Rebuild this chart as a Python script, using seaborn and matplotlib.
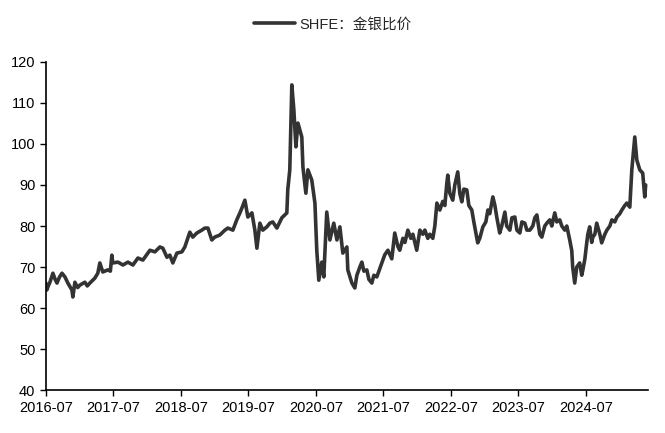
import pandas as pd
import matplotlib.pyplot as plt
import matplotlib.dates as mdates
import seaborn as sns

sns.set_style("ticks")
plt.rcParams['font.family'] = ['Liberation Sans', 'Noto Sans CJK SC', 'DejaVu Sans']
plt.rcParams['axes.unicode_minus'] = False

# 日期
dates = [
    "2016-07-01", "2016-07-06", "2016-07-15", "2016-07-23", "2016-08-08", "2016-08-20",
    "2016-08-30", "2016-09-12", "2016-09-26", "2016-10-12", "2016-10-28", "2016-11-19",
    "2016-11-24", "2016-12-05", "2016-12-20", "2017-01-01", "2017-01-28", "2017-02-10",
    "2017-02-24", "2017-03-23", "2017-04-08", "2017-04-19", "2017-05-05", "2017-06-01",
    "2017-06-15", "2017-06-23", "2017-06-28", "2017-07-26", "2017-08-22", "2017-09-18",
    "2017-10-15", "2017-11-11", "2017-12-08", "2018-01-04", "2018-01-15", "2018-02-11",
    "2018-03-10", "2018-03-26", "2018-04-17", "2018-05-03", "2018-05-19", "2018-06-10",
    "2018-07-07", "2018-07-23", "2018-08-19", "2018-09-04", "2018-09-26", "2018-10-23",
    "2018-11-08", "2018-11-25", "2018-12-16", "2019-01-01", "2019-01-28", "2019-02-25",
    "2019-03-13", "2019-04-09", "2019-04-30", "2019-05-17", "2019-05-28", "2019-06-13",
    "2019-06-29", "2019-07-21", "2019-08-06", "2019-08-17", "2019-09-02", "2019-09-18",
    "2019-10-10", "2019-10-26", "2019-11-11", "2019-12-03", "2019-12-30", "2020-01-26",
    "2020-01-31", "2020-02-11", "2020-02-22", "2020-03-04", "2020-03-15", "2020-03-26",
    "2020-04-16", "2020-04-22", "2020-05-08", "2020-05-19", "2020-06-09", "2020-06-26",
    "2020-07-06", "2020-07-17", "2020-08-02", "2020-08-13", "2020-08-29", "2020-09-15",
    "2020-10-06", "2020-10-23", "2020-11-08", "2020-11-24", "2020-12-16", "2020-12-21",
    "2021-01-12", "2021-01-28", "2021-02-08", "2021-02-24", "2021-03-07", "2021-03-18",
    "2021-04-03", "2021-04-14", "2021-04-30", "2021-05-11", "2021-05-27", "2021-06-07",
    "2021-06-23", "2021-07-09", "2021-07-26", "2021-08-16", "2021-09-01", "2021-09-18",
    "2021-09-28", "2021-10-15", "2021-10-26", "2021-11-11", "2021-11-27", "2021-12-08",
    "2021-12-29", "2022-01-15", "2022-01-31", "2022-02-11", "2022-02-27", "2022-03-10",
    "2022-03-26", "2022-04-06", "2022-04-17", "2022-05-03", "2022-05-19", "2022-05-30",
    "2022-06-10", "2022-06-15", "2022-06-26", "2022-07-12", "2022-07-23", "2022-08-08",
    "2022-08-19", "2022-08-30", "2022-09-10", "2022-09-26", "2022-10-07", "2022-10-23",
    "2022-11-03", "2022-11-24", "2022-12-05", "2022-12-22", "2023-01-07", "2023-01-18",
    "2023-01-28", "2023-02-14", "2023-02-25", "2023-03-07", "2023-03-23", "2023-04-03",
    "2023-04-20", "2023-04-30", "2023-05-17", "2023-05-28", "2023-06-13", "2023-06-24",
    "2023-07-10", "2023-07-21", "2023-08-06", "2023-08-17", "2023-09-02", "2023-09-18",
    "2023-09-29", "2023-10-10", "2023-10-26", "2023-11-06", "2023-11-22", "2023-12-03",
    "2023-12-19", "2023-12-30", "2024-01-15", "2024-01-26", "2024-02-11", "2024-02-22",
    "2024-03-09", "2024-03-20", "2024-04-05", "2024-04-16", "2024-04-21", "2024-05-02",
    "2024-05-13", "2024-05-29", "2024-06-09", "2024-06-15", "2024-06-26", "2024-07-06",
    "2024-07-12", "2024-07-22", "2024-08-02", "2024-08-08", "2024-08-19", "2024-08-29",
    "2024-09-15", "2024-09-25", "2024-10-12", "2024-10-23", "2024-11-08", "2024-11-19",
    "2024-12-05", "2024-12-16", "2025-01-01", "2025-01-12", "2025-01-28", "2025-02-08",
    "2025-02-24", "2025-03-07", "2025-03-23", "2025-04-03", "2025-04-19", "2025-05-05",
    "2025-05-16", "2025-05-21",
]

# 金银比价
ratio = [
    66.1, 64.4, 65.5, 66.3, 68.5, 67.0,
    66.1, 67.5, 68.5, 67.6, 66.1, 64.4,
    62.7, 66.3, 65.0, 65.6, 66.3, 65.4,
    66.1, 67.3, 68.5, 71.0, 68.8, 69.3,
    69.0, 72.9, 71.0, 71.2, 70.5, 71.2,
    70.5, 72.2, 71.7, 73.4, 74.1, 73.7,
    74.9, 74.6, 72.4, 72.9, 71.0, 73.4,
    73.7, 74.9, 78.5, 77.3, 78.3, 79.0,
    79.5, 79.5, 76.6, 77.3, 77.8, 79.0,
    79.5, 79.0, 81.5, 83.2, 84.4, 86.3,
    82.2, 83.2, 79.0, 74.6, 80.7, 79.0,
    79.8, 80.7, 81.0, 79.5, 82.0, 83.2,
    88.8, 93.7, 114.4, 108.3, 99.3, 105.1,
    101.7, 94.4, 88.0, 93.7, 91.2, 85.6,
    74.1, 66.8, 71.2, 67.6, 83.4, 76.6,
    80.7, 76.6, 79.8, 73.4, 74.9, 69.3,
    66.1, 64.9, 68.0, 70.0, 71.2, 69.0,
    69.3, 67.0, 66.1, 68.0, 67.6, 69.0,
    71.0, 73.0, 74.1, 72.0, 78.3, 75.0,
    74.1, 77.0, 76.0, 79.0, 77.0, 78.0,
    74.1, 79.0, 78.0, 79.0, 77.0, 78.0,
    77.0, 80.0, 85.6, 83.9, 86.0, 85.0,
    90.5, 92.4, 88.0, 86.3, 90.0, 93.2,
    88.0, 85.9, 89.0, 88.8, 85.0, 83.9,
    81.0, 75.9, 77.0, 79.8, 81.0, 83.9,
    83.0, 87.1, 85.0, 82.2, 78.3, 80.0,
    83.4, 80.0, 79.0, 82.0, 82.2, 79.0,
    78.3, 81.0, 80.7, 79.0, 79.0, 80.0,
    82.0, 82.7, 78.0, 77.3, 80.0, 80.7,
    81.5, 80.0, 83.2, 81.0, 81.5, 80.0,
    79.0, 80.0, 76.6, 74.0, 70.0, 66.1,
    70.0, 71.0, 68.0, 69.3, 72.0, 75.9,
    78.0, 79.8, 76.0, 77.3, 78.0, 80.7,
    78.0, 75.9, 78.0, 79.0, 80.0, 81.5,
    81.0, 82.2, 83.0, 83.9, 85.0, 85.6,
    84.6, 93.7, 101.7, 96.1, 93.7, 92.9,
    87.1, 90.0,
]

tick_labels = ["2016-07", "2017-07", "2018-07", "2019-07", "2020-07",
               "2021-07", "2022-07", "2023-07", "2024-07"]

df = pd.DataFrame({"日期": pd.to_datetime(dates), "金银比价": ratio})

fig = plt.figure(figsize=(6.65, 4.33), dpi=100)
ax = fig.add_axes([0.069, 0.099, 0.905, 0.758])

sns.lineplot(data=df, x="日期", y="金银比价", ax=ax, color="#333333",
             linewidth=2.6, label="SHFE：金银比价", legend=False)

ax.set_ylim(40, 120)
ax.set_yticks(range(40, 121, 10))
ax.set_xlim(pd.Timestamp("2016-07-01"), pd.Timestamp("2025-06-01"))
ax.set_xticks(pd.to_datetime([t + "-01" for t in tick_labels]))
ax.xaxis.set_major_formatter(mdates.DateFormatter("%Y-%m"))
ax.set_xlabel("")
ax.set_ylabel("")
ax.tick_params(axis="both", labelsize=10.5, length=4, width=1, color="black",
               labelcolor="black", direction="out")
sns.despine(ax=ax)
for s in ["left", "bottom"]:
    ax.spines[s].set_color("black")
    ax.spines[s].set_linewidth(1.2)

handles, labels = ax.get_legend_handles_labels()
fig.legend(handles, labels, loc="upper center", bbox_to_anchor=(0.5, 0.99),
           frameon=False, fontsize=10.5, handlelength=2.8, handletextpad=0.3)

fig.savefig("out.png", dpi=100)
